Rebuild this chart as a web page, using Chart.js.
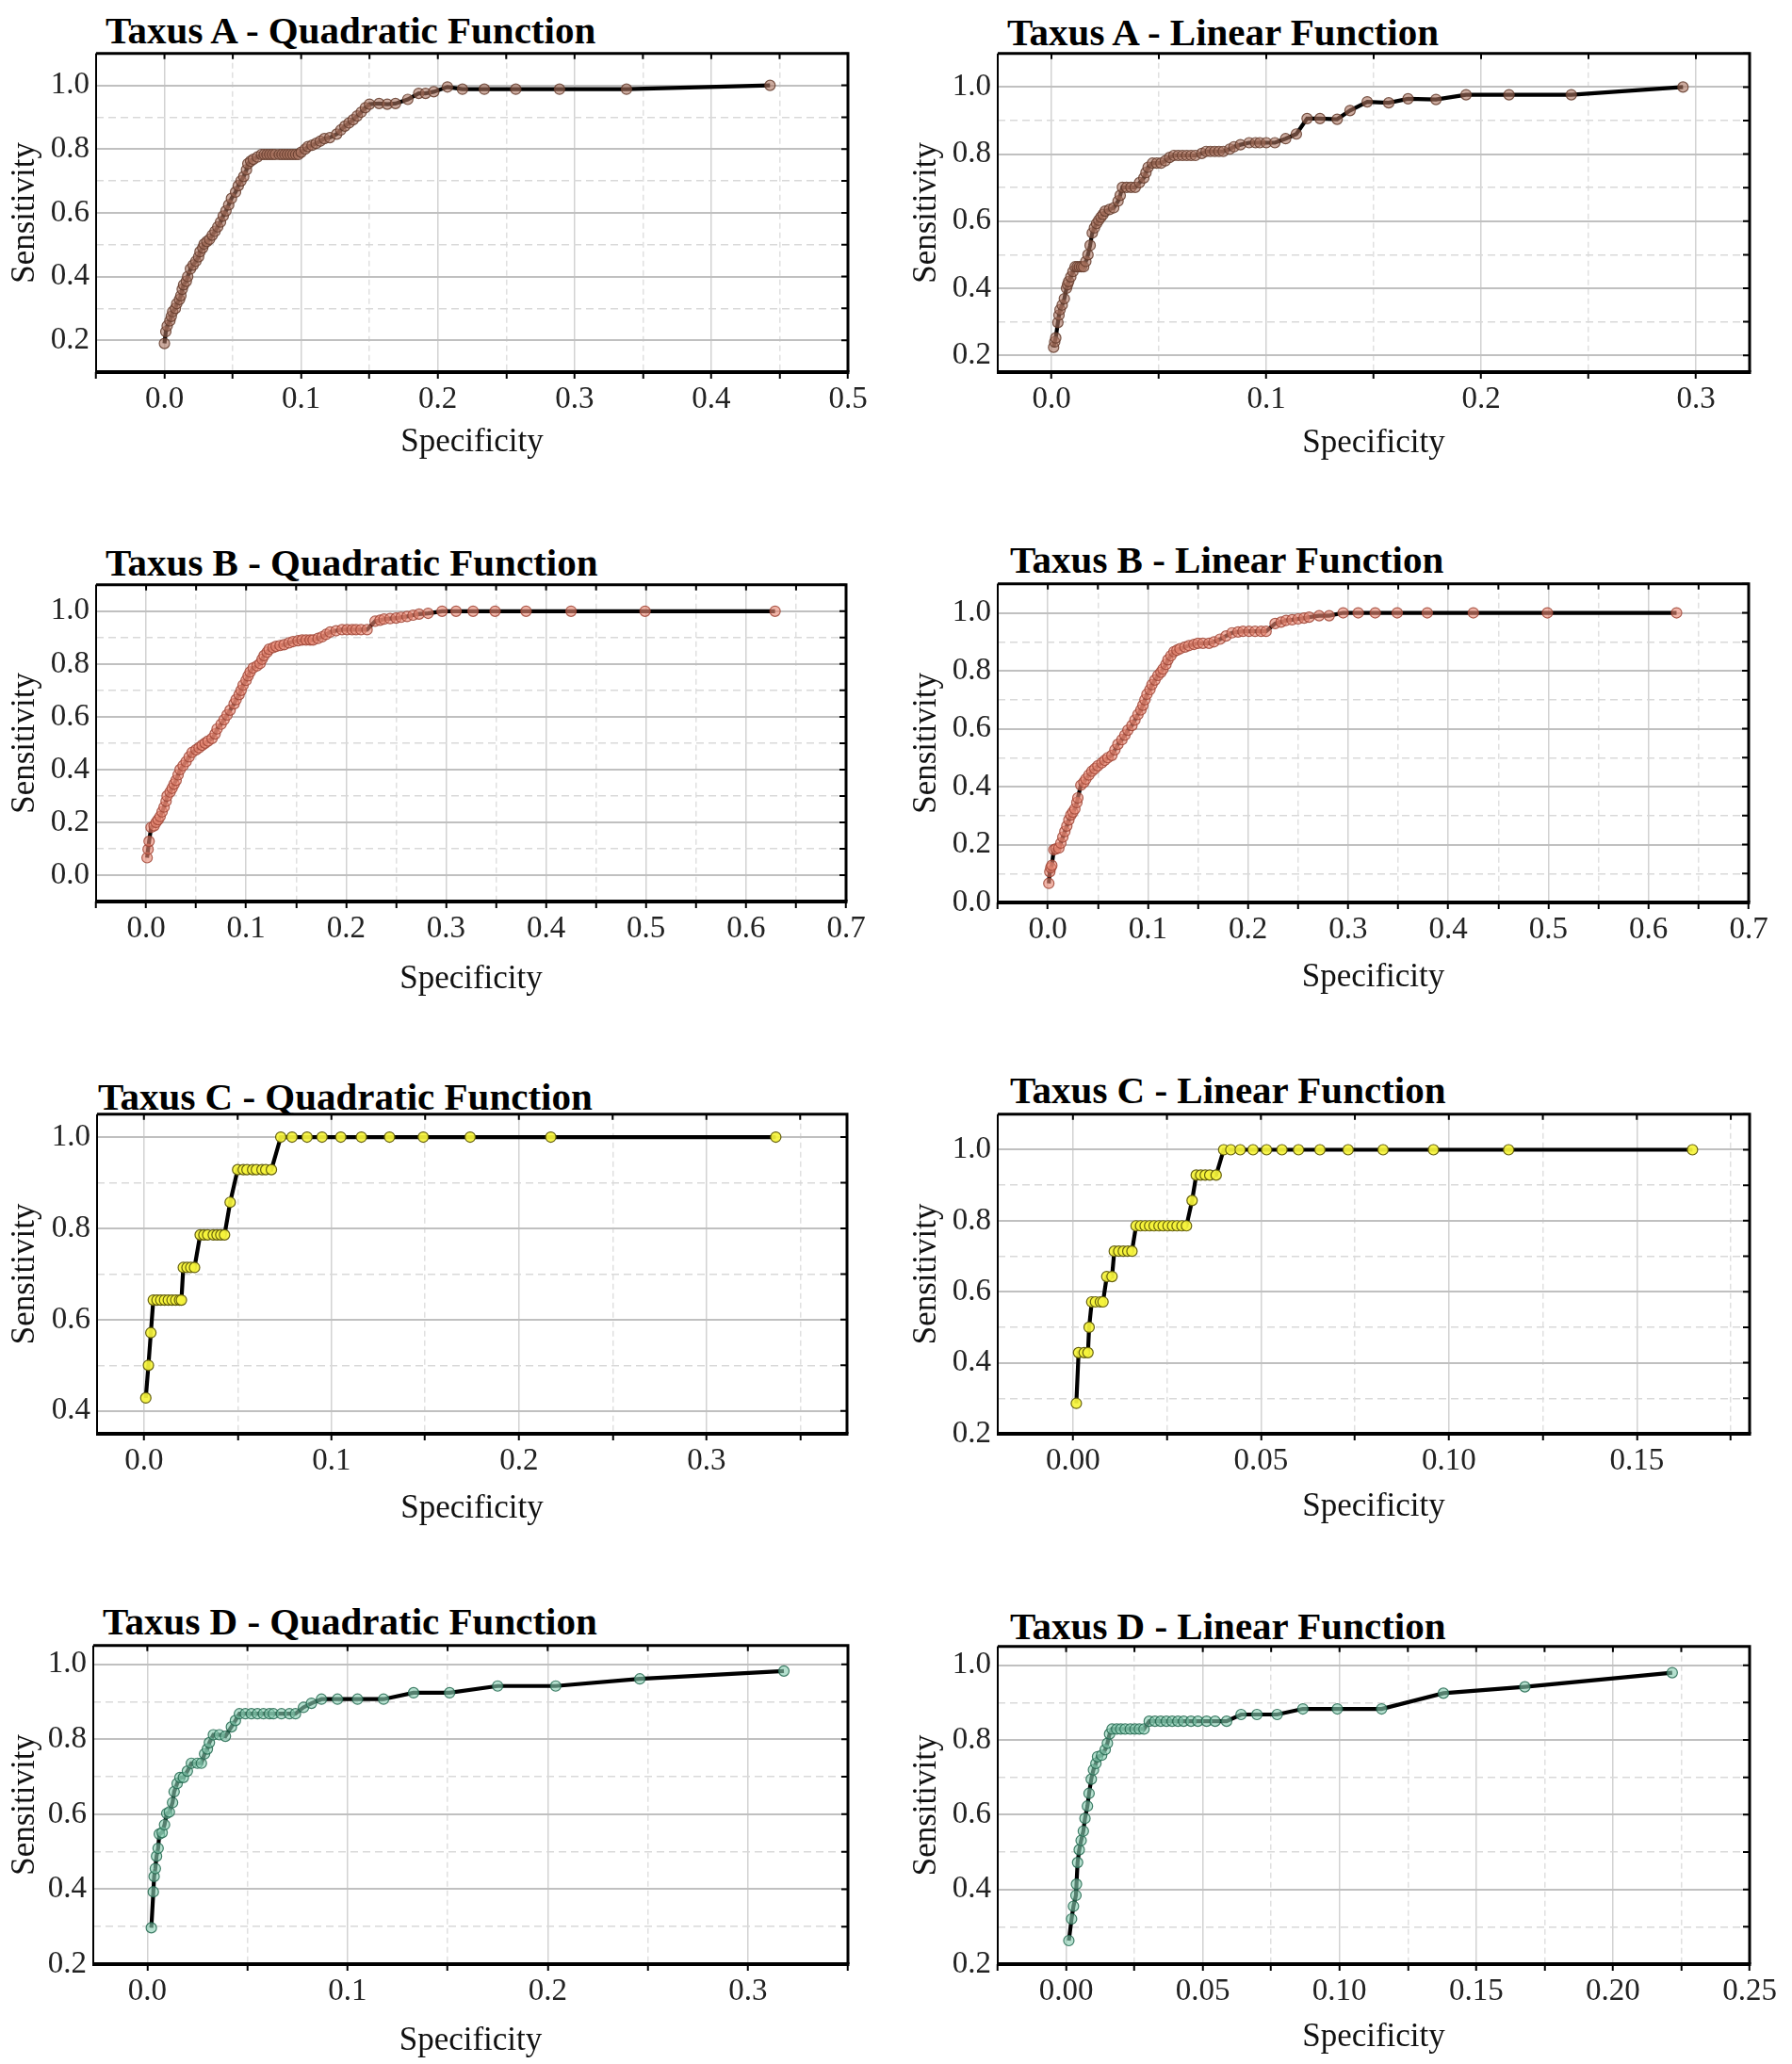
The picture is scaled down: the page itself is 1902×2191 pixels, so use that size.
<!DOCTYPE html>
<html>
<head>
<meta charset="utf-8">
<script src="https://cdn.jsdelivr.net/npm/chart.js@4.4.1/dist/chart.umd.min.js"></script>
<style>
  html, body { margin: 0; padding: 0; background: #fff; }
  body { width: 1902px; height: 2191px; position: relative; overflow: hidden; }
  .ttl { position: absolute; font-family: "Liberation Serif", "Times New Roman", serif; font-weight: bold;
         font-size: 41px; line-height: 1; white-space: nowrap; color: #000; }
  .wrap { position: absolute; }
</style>
</head>
<body>
<script>
// ---------- DATA: [specificity, sensitivity] ----------
const taxusA_quadratic = [[0.000,0.190],[0.001,0.227],[0.002,0.245],[0.004,0.261],[0.005,0.275],[0.006,0.290],[0.008,0.300],[0.009,0.315],[0.011,0.328],[0.012,0.340],[0.013,0.360],[0.014,0.374],[0.016,0.385],[0.017,0.400],[0.019,0.424],[0.021,0.436],[0.023,0.448],[0.025,0.462],[0.026,0.478],[0.028,0.490],[0.029,0.502],[0.031,0.510],[0.033,0.517],[0.035,0.530],[0.037,0.542],[0.039,0.556],[0.041,0.571],[0.043,0.590],[0.045,0.606],[0.047,0.625],[0.049,0.645],[0.052,0.665],[0.054,0.685],[0.056,0.700],[0.058,0.714],[0.060,0.735],[0.061,0.754],[0.063,0.762],[0.065,0.768],[0.068,0.775],[0.071,0.783],[0.073,0.783],[0.075,0.783],[0.077,0.783],[0.079,0.783],[0.081,0.783],[0.084,0.783],[0.086,0.783],[0.088,0.783],[0.090,0.783],[0.092,0.783],[0.094,0.783],[0.096,0.783],[0.098,0.783],[0.100,0.790],[0.103,0.800],[0.105,0.808],[0.108,0.812],[0.111,0.818],[0.114,0.825],[0.117,0.833],[0.121,0.836],[0.126,0.847],[0.129,0.860],[0.132,0.872],[0.135,0.882],[0.138,0.892],[0.141,0.904],[0.144,0.916],[0.147,0.930],[0.150,0.941],[0.157,0.943],[0.163,0.941],[0.169,0.943],[0.178,0.956],[0.186,0.975],[0.191,0.975],[0.197,0.980],[0.207,0.995],[0.218,0.988],[0.234,0.988],[0.257,0.988],[0.289,0.988],[0.338,0.988],[0.443,1.000]];

const taxusA_linear = [[0.001,0.224],[0.0015,0.240],[0.002,0.252],[0.003,0.298],[0.0035,0.320],[0.004,0.336],[0.005,0.350],[0.006,0.369],[0.007,0.400],[0.0075,0.411],[0.008,0.420],[0.009,0.434],[0.010,0.450],[0.011,0.464],[0.012,0.464],[0.013,0.464],[0.014,0.464],[0.015,0.464],[0.016,0.480],[0.017,0.500],[0.018,0.528],[0.019,0.565],[0.020,0.580],[0.021,0.593],[0.022,0.603],[0.023,0.612],[0.024,0.620],[0.025,0.630],[0.027,0.635],[0.029,0.640],[0.031,0.660],[0.032,0.677],[0.033,0.701],[0.035,0.701],[0.037,0.701],[0.039,0.701],[0.041,0.715],[0.043,0.729],[0.044,0.745],[0.045,0.761],[0.047,0.773],[0.049,0.773],[0.051,0.773],[0.053,0.780],[0.055,0.790],[0.057,0.796],[0.059,0.796],[0.061,0.796],[0.063,0.796],[0.065,0.796],[0.067,0.796],[0.070,0.802],[0.072,0.808],[0.074,0.808],[0.076,0.808],[0.078,0.808],[0.080,0.808],[0.083,0.815],[0.085,0.822],[0.088,0.828],[0.092,0.834],[0.095,0.834],[0.097,0.834],[0.100,0.834],[0.104,0.834],[0.109,0.846],[0.114,0.860],[0.119,0.906],[0.125,0.906],[0.133,0.904],[0.139,0.930],[0.147,0.956],[0.157,0.953],[0.166,0.965],[0.179,0.963],[0.193,0.977],[0.213,0.977],[0.242,0.977],[0.294,1.000]];

const taxusB_quadratic = [[0.001,0.066],[0.002,0.098],[0.003,0.128],[0.005,0.181],[0.008,0.187],[0.010,0.200],[0.012,0.210],[0.014,0.222],[0.016,0.240],[0.018,0.258],[0.020,0.280],[0.021,0.300],[0.024,0.315],[0.026,0.329],[0.028,0.345],[0.030,0.359],[0.032,0.380],[0.034,0.400],[0.037,0.415],[0.040,0.430],[0.043,0.448],[0.046,0.465],[0.050,0.475],[0.053,0.483],[0.056,0.492],[0.059,0.500],[0.062,0.508],[0.066,0.518],[0.069,0.535],[0.071,0.554],[0.075,0.572],[0.078,0.589],[0.081,0.607],[0.084,0.625],[0.088,0.649],[0.090,0.665],[0.093,0.684],[0.095,0.700],[0.097,0.720],[0.100,0.738],[0.102,0.755],[0.104,0.770],[0.107,0.785],[0.111,0.793],[0.114,0.802],[0.116,0.818],[0.118,0.832],[0.121,0.845],[0.123,0.856],[0.127,0.862],[0.130,0.867],[0.134,0.870],[0.138,0.873],[0.143,0.880],[0.147,0.885],[0.152,0.888],[0.156,0.891],[0.160,0.891],[0.164,0.891],[0.167,0.891],[0.172,0.897],[0.176,0.903],[0.180,0.912],[0.184,0.921],[0.190,0.926],[0.196,0.930],[0.201,0.930],[0.206,0.930],[0.210,0.930],[0.215,0.930],[0.221,0.930],[0.229,0.962],[0.234,0.966],[0.238,0.970],[0.244,0.972],[0.250,0.974],[0.255,0.977],[0.261,0.980],[0.267,0.985],[0.273,0.989],[0.282,0.992],[0.296,1.000],[0.310,1.000],[0.327,1.000],[0.349,1.000],[0.380,1.000],[0.425,1.000],[0.499,1.000],[0.629,1.000]];

const taxusB_linear = [[0.001,0.066],[0.002,0.106],[0.003,0.120],[0.004,0.128],[0.006,0.182],[0.008,0.185],[0.011,0.188],[0.013,0.205],[0.015,0.226],[0.017,0.245],[0.019,0.264],[0.021,0.285],[0.023,0.302],[0.025,0.312],[0.027,0.323],[0.029,0.345],[0.030,0.361],[0.033,0.405],[0.036,0.415],[0.038,0.426],[0.041,0.440],[0.044,0.453],[0.047,0.462],[0.050,0.472],[0.054,0.482],[0.057,0.491],[0.060,0.500],[0.064,0.508],[0.067,0.527],[0.070,0.546],[0.074,0.562],[0.077,0.578],[0.080,0.595],[0.084,0.611],[0.087,0.630],[0.090,0.649],[0.093,0.665],[0.095,0.681],[0.097,0.700],[0.099,0.719],[0.102,0.735],[0.104,0.752],[0.107,0.768],[0.110,0.784],[0.113,0.795],[0.115,0.806],[0.118,0.822],[0.120,0.838],[0.123,0.852],[0.126,0.866],[0.129,0.871],[0.132,0.876],[0.137,0.882],[0.141,0.887],[0.146,0.891],[0.150,0.895],[0.155,0.895],[0.161,0.895],[0.166,0.900],[0.172,0.909],[0.178,0.920],[0.184,0.931],[0.190,0.934],[0.195,0.936],[0.201,0.936],[0.207,0.936],[0.213,0.936],[0.218,0.936],[0.227,0.963],[0.233,0.968],[0.238,0.974],[0.244,0.976],[0.250,0.979],[0.256,0.982],[0.261,0.985],[0.271,0.990],[0.281,0.990],[0.295,1.000],[0.310,1.000],[0.327,1.000],[0.349,1.000],[0.379,1.000],[0.425,1.000],[0.499,1.000],[0.628,1.000]];

const taxusC_quadratic = [[0.001,0.4286],[0.0024,0.5],[0.0037,0.5714],[0.005,0.6429],[0.007,0.6429],[0.009,0.6429],[0.011,0.6429],[0.013,0.6429],[0.015,0.6429],[0.017,0.6429],[0.019,0.6429],[0.020,0.6429],[0.021,0.7143],[0.023,0.7143],[0.025,0.7143],[0.027,0.7143],[0.030,0.7857],[0.032,0.7857],[0.034,0.7857],[0.037,0.7857],[0.039,0.7857],[0.041,0.7857],[0.043,0.7857],[0.046,0.8571],[0.050,0.9286],[0.053,0.9286],[0.055,0.9286],[0.058,0.9286],[0.060,0.9286],[0.063,0.9286],[0.065,0.9286],[0.068,0.9286],[0.073,1],[0.079,1],[0.087,1],[0.095,1],[0.105,1],[0.116,1],[0.131,1],[0.149,1],[0.174,1],[0.217,1],[0.337,1]];

const taxusC_linear = [[0.0009,0.2857],[0.0015,0.4286],[0.003,0.4286],[0.004,0.4286],[0.0043,0.5],[0.005,0.5714],[0.006,0.5714],[0.0073,0.5714],[0.008,0.5714],[0.009,0.6429],[0.0104,0.6429],[0.011,0.7143],[0.0122,0.7143],[0.0134,0.7143],[0.0146,0.7143],[0.0157,0.7143],[0.0168,0.7857],[0.018,0.7857],[0.0192,0.7857],[0.0204,0.7857],[0.0216,0.7857],[0.0229,0.7857],[0.024,0.7857],[0.0253,0.7857],[0.0265,0.7857],[0.0277,0.7857],[0.029,0.7857],[0.0302,0.7857],[0.0317,0.8571],[0.0328,0.9286],[0.034,0.9286],[0.0352,0.9286],[0.0364,0.9286],[0.0381,0.9286],[0.0401,1],[0.042,1],[0.0445,1],[0.0479,1],[0.0515,1],[0.0556,1],[0.060,1],[0.0657,1],[0.0732,1],[0.0825,1],[0.0959,1],[0.1159,1],[0.1648,1]];

const taxusD_quadratic = [[0.002,0.297],[0.003,0.393],[0.0034,0.434],[0.004,0.455],[0.0046,0.488],[0.0054,0.509],[0.006,0.547],[0.0074,0.551],[0.0086,0.572],[0.0097,0.602],[0.011,0.606],[0.0126,0.631],[0.0134,0.660],[0.0149,0.682],[0.0163,0.698],[0.018,0.698],[0.020,0.715],[0.022,0.736],[0.025,0.736],[0.027,0.736],[0.0286,0.761],[0.030,0.774],[0.031,0.791],[0.033,0.812],[0.036,0.812],[0.039,0.808],[0.042,0.833],[0.044,0.850],[0.046,0.868],[0.049,0.868],[0.052,0.868],[0.055,0.868],[0.058,0.868],[0.061,0.868],[0.063,0.868],[0.067,0.868],[0.071,0.868],[0.074,0.868],[0.078,0.885],[0.082,0.896],[0.087,0.907],[0.095,0.907],[0.105,0.907],[0.118,0.907],[0.133,0.924],[0.151,0.924],[0.175,0.942],[0.204,0.942],[0.246,0.961],[0.318,0.982]];

const taxusD_linear = [[0.001,0.263],[0.002,0.321],[0.0027,0.355],[0.0036,0.384],[0.0038,0.414],[0.0042,0.472],[0.0048,0.506],[0.0055,0.531],[0.0063,0.556],[0.0069,0.590],[0.0078,0.623],[0.0084,0.657],[0.0092,0.695],[0.010,0.720],[0.0109,0.737],[0.0115,0.755],[0.013,0.759],[0.0143,0.774],[0.0151,0.791],[0.0159,0.816],[0.0168,0.829],[0.0185,0.829],[0.020,0.829],[0.0216,0.829],[0.0235,0.829],[0.0252,0.829],[0.0268,0.829],[0.0285,0.829],[0.0304,0.850],[0.0325,0.850],[0.0346,0.850],[0.0367,0.850],[0.0388,0.850],[0.0409,0.850],[0.043,0.850],[0.0457,0.850],[0.0482,0.850],[0.0514,0.850],[0.0545,0.850],[0.0587,0.850],[0.064,0.868],[0.0698,0.868],[0.0772,0.868],[0.0866,0.883],[0.0992,0.883],[0.1154,0.883],[0.138,0.925],[0.1678,0.942],[0.2217,0.980]];

// ---------- Axis ranges / tick steps ----------
const xAxisRanges = { AQ:[-0.05,0.5], AL:[-0.025,0.325], BQ:[-0.05,0.7], BL:[-0.05,0.7], CQ:[-0.025,0.375], CL:[-0.02,0.18], DQ:[-0.027,0.35], DL:[-0.025,0.25] };
const yAxisRanges = { AQ:[0.1,1.1], AL:[0.15,1.1], BQ:[-0.1,1.1], BL:[0,1.1], CQ:[0.35,1.05], CL:[0.2,1.1], DQ:[0.2,1.05], DL:[0.2,1.05] };
const xGridSteps  = { AQ:0.05, AL:0.05, BQ:0.05, BL:0.05, CQ:0.05, CL:0.025, DQ:0.05, DL:0.025 };
const xLabelSteps = { AQ:0.1, AL:0.1, BQ:0.1, BL:0.1, CQ:0.1, CL:0.05, DQ:0.1, DL:0.05 };
const xLabelDecimals = { AQ:1, AL:1, BQ:1, BL:1, CQ:1, CL:2, DQ:1, DL:2 };
const yGridStep = 0.1, yLabelStep = 0.2;
const xAxisTitle = 'Specificity', yAxisTitle = 'Sensitivity';

// ---------- Layout / style ----------
const palettes = {
  A: { fill:'rgba(170,115,95,0.6)',   border:'rgba(100,60,45,0.85)' },
  B: { fill:'rgba(232,135,115,0.62)', border:'rgba(160,70,55,0.85)' },
  C: { fill:'rgba(246,244,60,0.92)',  border:'rgba(95,90,10,0.95)' },
  D: { fill:'rgba(135,205,178,0.62)', border:'rgba(35,105,80,0.85)' }
};
const panels = [
  { key:'AQ', title:'Taxus A - Quadratic Function', data:taxusA_quadratic, pal:'A', cl:0,   plot:[102,56,900,395],   xTitleY:470,  tTop:12,   tLeft:112 },
  { key:'AL', title:'Taxus A - Linear Function',    data:taxusA_linear,    pal:'A', cl:951, plot:[1059,56,1857,395], xTitleY:471,  tTop:14,   tLeft:1069 },
  { key:'BQ', title:'Taxus B - Quadratic Function', data:taxusB_quadratic, pal:'B', cl:0,   plot:[102,620,898,957],  xTitleY:1040, tTop:577,  tLeft:112 },
  { key:'BL', title:'Taxus B - Linear Function',    data:taxusB_linear,    pal:'B', cl:951, plot:[1059,619,1856,958],xTitleY:1038, tTop:574,  tLeft:1072 },
  { key:'CQ', title:'Taxus C - Quadratic Function', data:taxusC_quadratic, pal:'C', cl:0,   plot:[103,1182,899,1522],xTitleY:1602, tTop:1144, tLeft:104 },
  { key:'CL', title:'Taxus C - Linear Function',    data:taxusC_linear,    pal:'C', cl:951, plot:[1059,1182,1857,1522],xTitleY:1600,tTop:1137, tLeft:1072 },
  { key:'DQ', title:'Taxus D - Quadratic Function', data:taxusD_quadratic, pal:'D', cl:0,   plot:[99,1746,900,2085], xTitleY:2167, tTop:1701, tLeft:109 },
  { key:'DL', title:'Taxus D - Linear Function',    data:taxusD_linear,    pal:'D', cl:951, plot:[1059,1747,1857,2085],xTitleY:2163,tTop:1706, tLeft:1072 }
];

function gridValues(min,max,step){
  const v=[]; for (let k=Math.ceil(min/step-1e-9); k*step<=max+1e-9; k++) v.push(+(k*step).toFixed(4)); return v;
}
function isMult(v,s){ const r=v/s; return Math.abs(r-Math.round(r))<1e-6; }

const SERIF = '"Liberation Serif", "Times New Roman", serif';
const TICK_SIZE = 33, AXT_SIZE = 35;
const framePlugin = {
  id:'frame',
  afterDraw(chart){
    const {ctx, chartArea:{left,right,top,bottom}} = chart;
    const xs = chart.scales.x, ys = chart.scales.y;
    ctx.save();
    ctx.strokeStyle = '#000';
    ctx.lineWidth = 2;
    ctx.beginPath();
    xs.ticks.forEach(t=>{ const px=xs.getPixelForValue(t.value); ctx.moveTo(px,top); ctx.lineTo(px,top+6); });
    ys.ticks.forEach(t=>{ const py=ys.getPixelForValue(t.value); ctx.moveTo(right,py); ctx.lineTo(right-7,py); });
    ctx.stroke();
    ctx.lineWidth = 2; ctx.beginPath(); ctx.moveTo(left,top); ctx.lineTo(left,bottom); ctx.stroke();
    ctx.lineWidth = 3; ctx.beginPath(); ctx.moveTo(left,top); ctx.lineTo(right,top); ctx.lineTo(right,bottom); ctx.stroke();
    ctx.lineWidth = 4; ctx.beginPath(); ctx.moveTo(left-1,bottom); ctx.lineTo(right+1.5,bottom); ctx.stroke();
    ctx.restore();
  }
};

panels.forEach(p=>{
  const t = document.createElement('div');
  t.className = 'ttl'; t.textContent = p.title;
  t.style.left = p.tLeft+'px'; t.style.top = p.tTop+'px';
  document.body.appendChild(t);

  const [pl,pt,pr,pb] = p.plot;
  const padTop = 26;
  const ct = pt - padTop;
  const cw = 951;
  const titleLH = AXT_SIZE*1.2;
  const xAxisH = (p.xTitleY - pb) + titleLH/2;
  const ch = padTop + (pb-pt) + xAxisH;
  const yAxisW = pl - p.cl;

  const wrap = document.createElement('div');
  wrap.className='wrap';
  wrap.style.cssText = `left:${p.cl}px;top:${ct}px;width:${cw}px;height:${Math.round(ch)}px`;
  const cv = document.createElement('canvas');
  cv.width = cw; cv.height = Math.round(ch);
  cv.style.width = cw+'px'; cv.style.height = Math.round(ch)+'px';
  wrap.appendChild(cv); document.body.appendChild(wrap);

  const [xmin,xmax] = xAxisRanges[p.key], [ymin,ymax] = yAxisRanges[p.key];
  const xStep = xGridSteps[p.key], xLab = xLabelSteps[p.key], xDec = xLabelDecimals[p.key];
  const xVals = gridValues(xmin,xmax,xStep), yVals = gridValues(ymin,ymax,yGridStep);
  const pts = p.data.map(([x,y])=>({x,y}));

  new Chart(cv, {
    type:'scatter',
    data:{ datasets:[{
      data: pts, showLine:true, borderColor:'#000', borderWidth:4.2,
      pointRadius:5.5, pointHoverRadius:5.5,
      pointBackgroundColor: palettes[p.pal].fill,
      pointBorderColor: palettes[p.pal].border, pointBorderWidth:1.2
    }]},
    options:{
      responsive:false, animation:false, devicePixelRatio:1,
      layout:{ padding:{ top:padTop, left:0, right: cw-(pr-p.cl), bottom:0 } },
      plugins:{ legend:{display:false}, tooltip:{enabled:false} },
      scales:{
        x:{
          type:'linear', min:xmin, max:xmax,
          afterBuildTicks(s){ s.ticks = xVals.map(v=>({value:v})); },
          afterFit(s){ s.height = xAxisH; },
          ticks:{ autoSkip:false, maxRotation:0, padding:3, color:'#222',
                  font:{family:SERIF, size:TICK_SIZE},
                  callback:(v)=> isMult(v,xLab) ? Number(v).toFixed(xDec) : '' },
          grid:{ drawTicks:true, tickLength:7, tickColor:'#000', tickWidth:2,
                 color:(c)=> (c.tick && isMult(c.tick.value,xLab)) ? '#d2d2d2' : '#e0e0e0',
                 lineWidth:1.5 },
          border:{ display:false, dash:(c)=> (c.tick && isMult(c.tick.value,xLab)) ? [] : [6,4] },
          title:{ display:true, text:xAxisTitle, color:'#111', padding:{top:0,bottom:0},
                  font:{family:SERIF, size:AXT_SIZE} }
        },
        y:{
          type:'linear', min:ymin, max:ymax,
          afterBuildTicks(s){ s.ticks = yVals.map(v=>({value:v})); },
          afterFit(s){ s.width = yAxisW; },
          ticks:{ autoSkip:false, padding:7, color:'#222', font:{family:SERIF, size:TICK_SIZE},
                  callback:(v)=> isMult(v,yLabelStep) ? Number(v).toFixed(1) : '' },
          grid:{ drawTicks:false,
                 color:(c)=> (c.tick && isMult(c.tick.value,yLabelStep)) ? '#c0c0c0' : '#d9d9d9',
                 lineWidth:(c)=> (c.tick && isMult(c.tick.value,yLabelStep)) ? 2 : 1.5 },
          border:{ display:false, dash:(c)=> (c.tick && isMult(c.tick.value,yLabelStep)) ? [] : [8,5] },
          title:{ display:true, text:yAxisTitle, color:'#111',
                  padding:{top: p.cl===0 ? 6 : 12, bottom:0},
                  font:{family:SERIF, size:AXT_SIZE} }
        }
      }
    },
    plugins:[framePlugin]
  });
});
</script>
</body>
</html>
